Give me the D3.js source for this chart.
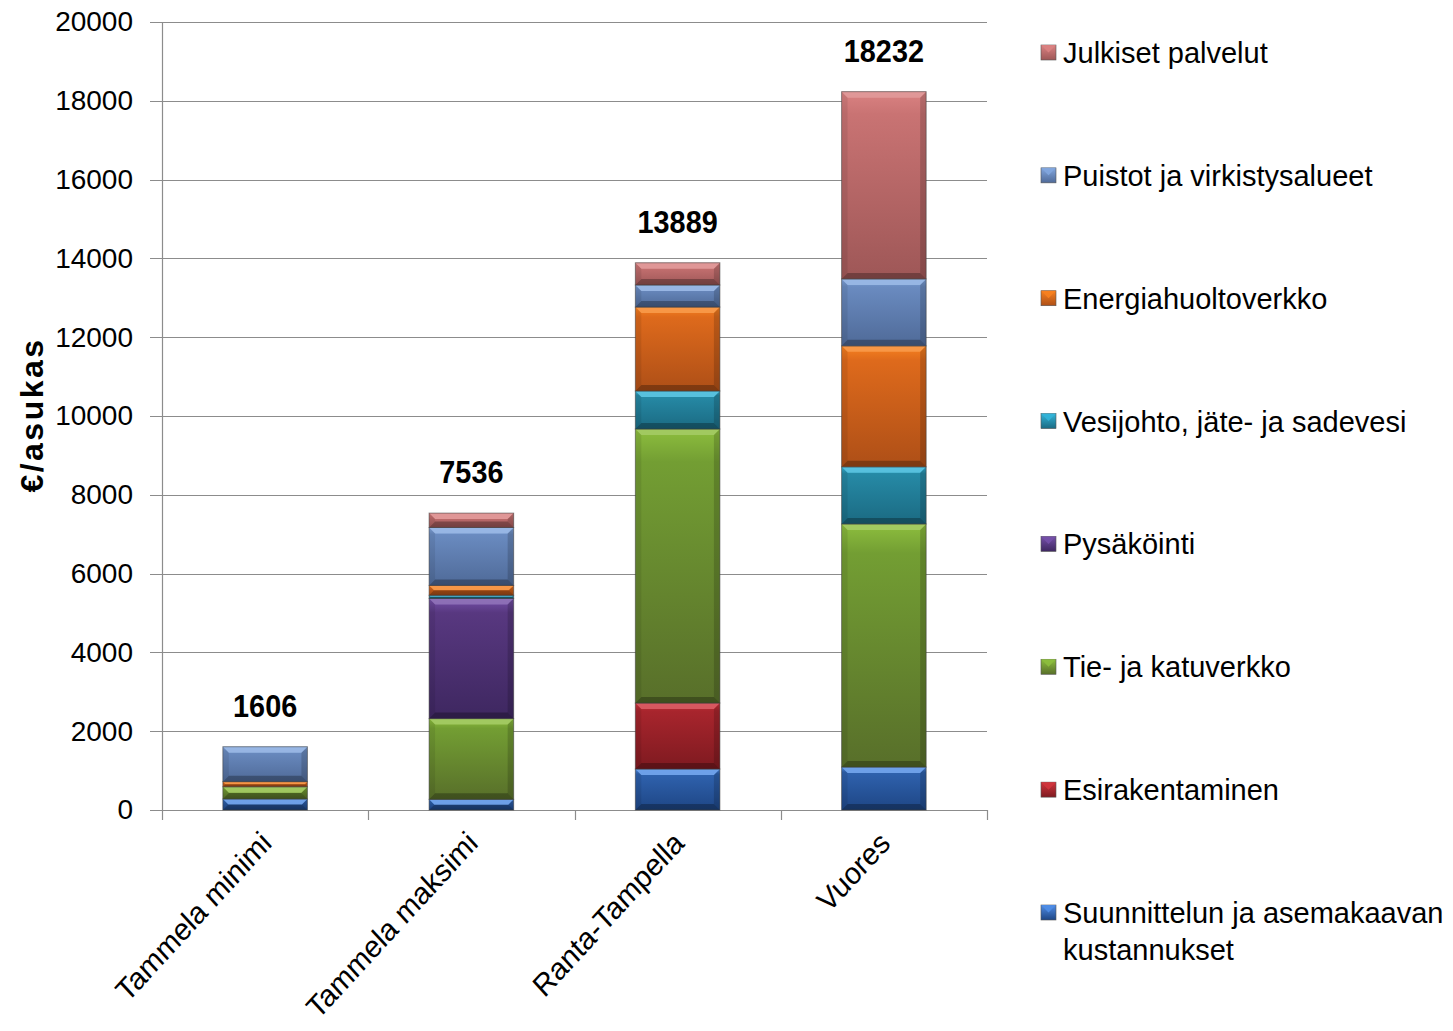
<!DOCTYPE html>
<html>
<head>
<meta charset="utf-8">
<script src="https://cdn.jsdelivr.net/npm/d3@7"></script>
<style>
  html, body { margin: 0; padding: 0; background: #fff; }
  svg { display: block; font-family: "Liberation Sans", Arial, sans-serif; }
</style>
</head>
<body>
<svg id="chart" width="1453" height="1031"></svg>
<script>
// Areas compared
const categories = ["Tammela minimi", "Tammela maksimi", "Ranta-Tampella", "Vuores"];

// Cost components, bottom to top (€ per resident)
const seriesNames = [
  "Suunnittelun ja asemakaavan kustannukset",
  "Esirakentaminen",
  "Tie- ja katuverkko",
  "Pysäköinti",
  "Vesijohto, jäte- ja sadevesi",
  "Energiahuoltoverkko",
  "Puistot ja virkistysalueet",
  "Julkiset palvelut"
];
const suunnittelu = [280, 270, 1040, 1090];
const esirakentaminen = [0, 0, 1675, 0];
const tieJaKatu = [310, 2050, 6955, 6170];
const pysakointi = [0, 3050, 0, 0];
const vesihuolto = [0, 80, 965, 1450];
const energia = [130, 250, 2130, 3070];
const puistot = [886, 1470, 560, 1700];
const julkiset = [0, 366, 564, 4752];

const totals = [1606, 7536, 13889, 18232];
const yTicks = [0, 2000, 4000, 6000, 8000, 10000, 12000, 14000, 16000, 18000, 20000];

// Base / light / dark tones for each component
const colors = [
  { base: "#2F62AE", light: "#4F8DE6", dark: "#1E4685" },
  { base: "#A8252D", light: "#D0353D", dark: "#7E1A20" },
  { base: "#739E33", light: "#8DBE3E", dark: "#586F2A" },
  { base: "#583880", light: "#7450A8", dark: "#3E2760" },
  { base: "#268AA6", light: "#33B4D8", dark: "#1B6A82" },
  { base: "#DE6A1C", light: "#F7811F", dark: "#AE4F17" },
  { base: "#6A8BC0", light: "#82A6DE", dark: "#4F6A98" },
  { base: "#C97373", light: "#DA8282", dark: "#9E5757" }
];

const seriesValues = [suunnittelu, esirakentaminen, tieJaKatu, pysakointi,
                      vesihuolto, energia, puistot, julkiset];

const rows = categories.map((c, i) => {
  const r = { category: c };
  seriesNames.forEach((s, k) => { r[s] = seriesValues[k][i]; });
  return r;
});
const stacked = d3.stack().keys(seriesNames)(rows);

const svg = d3.select("#chart");
const plot = { left: 162, right: 987, top: 22, bottom: 810 };

const x = d3.scaleBand().domain(categories).range([plot.left, plot.right]).paddingInner(0.59).paddingOuter(0.295);
const y = d3.scaleLinear().domain([0, 20000]).range([plot.bottom, plot.top]);

// Gradients
const defs = svg.append("defs");
colors.forEach((c, k) => {
  const g = defs.append("linearGradient").attr("id", "grad" + k)
    .attr("x1", 0).attr("y1", 0).attr("x2", 0).attr("y2", 1);
  g.append("stop").attr("offset", "0%").attr("stop-color", c.light);
  g.append("stop").attr("offset", "12%").attr("stop-color", c.base);
  g.append("stop").attr("offset", "100%").attr("stop-color", c.dark);
  const lg = defs.append("linearGradient").attr("id", "lgrad" + k)
    .attr("x1", 0).attr("y1", 0).attr("x2", 0).attr("y2", 1);
  lg.append("stop").attr("offset", "0%").attr("stop-color", c.light);
  lg.append("stop").attr("offset", "100%").attr("stop-color", c.dark);
});

// Gridlines with outward tick marks
svg.append("g").selectAll("line").data(yTicks).join("line")
  .attr("x1", plot.left - 12).attr("x2", plot.right)
  .attr("y1", d => Math.round(y(d)) + 0.5).attr("y2", d => Math.round(y(d)) + 0.5)
  .attr("stroke", "#8c8c8c").attr("stroke-width", 1.2);

// Y axis
const yAxis = d3.axisLeft(y).tickValues(yTicks).tickSize(0).tickPadding(0).tickFormat(d3.format("d"));
const yg = svg.append("g").attr("transform", `translate(${plot.left - 29},0)`).call(yAxis);
yg.select(".domain").remove();
yg.selectAll("text").attr("font-size", 28).attr("fill", "#000")
  .attr("font-family", "Liberation Sans, Arial, sans-serif");

svg.append("line").attr("x1", plot.left + 0.5).attr("x2", plot.left + 0.5)
  .attr("y1", plot.top).attr("y2", plot.bottom).attr("stroke", "#8c8c8c").attr("stroke-width", 1.2);

// X axis with category boundary ticks
const bounds = d3.range(categories.length + 1).map(i => plot.left + i * (plot.right - plot.left) / categories.length);
svg.append("g").selectAll("line").data(bounds).join("line")
  .attr("x1", d => Math.round(d) + 0.5).attr("x2", d => Math.round(d) + 0.5)
  .attr("y1", plot.bottom).attr("y2", plot.bottom + 10)
  .attr("stroke", "#8c8c8c").attr("stroke-width", 1.2);

// Bars with bevelled segments
const bw = x.bandwidth();
const bev = 6;
const layers = svg.append("g").selectAll("g").data(stacked).join("g");
layers.each(function (layer, k) {
  const g = d3.select(this);
  layer.forEach(d => {
    const h = y(d[0]) - y(d[1]);
    if (h <= 0.01) return;
    const x0 = x(d.data.category), y0 = y(d[1]);
    const seg = g.append("g");
    seg.append("rect").attr("x", x0).attr("y", y0).attr("width", bw).attr("height", h)
      .attr("fill", `url(#grad${k})`);
    const b = Math.min(bev, h / 2);
    // top highlight
    seg.append("path").attr("d", `M${x0},${y0}L${x0 + bw},${y0}L${x0 + bw - b},${y0 + b}L${x0 + b},${y0 + b}Z`)
      .attr("fill", colors[k].light).attr("opacity", 0.95);
    seg.append("path").attr("d", `M${x0},${y0}L${x0 + bw},${y0}L${x0 + bw - b},${y0 + b}L${x0 + b},${y0 + b}Z`)
      .attr("fill", "#fff").attr("opacity", 0.18);
    // bottom shade
    seg.append("path").attr("d", `M${x0},${y0 + h}L${x0 + bw},${y0 + h}L${x0 + bw - b},${y0 + h - b}L${x0 + b},${y0 + h - b}Z`)
      .attr("fill", "#000").attr("opacity", 0.28);
    // sides
    seg.append("path").attr("d", `M${x0},${y0}L${x0 + b},${y0 + b}L${x0 + b},${y0 + h - b}L${x0},${y0 + h}Z`)
      .attr("fill", "#000").attr("opacity", 0.08);
    seg.append("path").attr("d", `M${x0 + bw},${y0}L${x0 + bw - b},${y0 + b}L${x0 + bw - b},${y0 + h - b}L${x0 + bw},${y0 + h}Z`)
      .attr("fill", "#000").attr("opacity", 0.16);
    seg.append("rect").attr("x", x0).attr("y", y0).attr("width", bw).attr("height", h)
      .attr("fill", "none").attr("stroke", "#3c3c3c").attr("stroke-opacity", 0.55).attr("stroke-width", 1);
  });
});

// Total labels
svg.append("g").selectAll("text").data(categories).join("text")
  .attr("transform", (d, i) => `translate(${x(d) + bw / 2},${y(totals[i]) - 30}) scale(0.93,1)`)
  .attr("text-anchor", "middle")
  .attr("font-size", 31).attr("font-weight", "bold").attr("fill", "#000")
  .text((d, i) => totals[i]);

// Rotated category labels
svg.append("g").selectAll("text").data(categories).join("text")
  .attr("transform", d => `translate(${x(d) + bw / 2 + 8},${plot.bottom + 35}) scale(0.92,1) rotate(-45)`)
  .attr("text-anchor", "end")
  .attr("font-size", 31).attr("fill", "#000")
  .text(d => d);

// Y axis title
svg.append("text")
  .attr("transform", `translate(43,415) rotate(-90)`)
  .attr("text-anchor", "middle")
  .attr("font-size", 32).attr("font-weight", "bold").attr("letter-spacing", 2.5).attr("fill", "#000")
  .text("€/asukas");

// Legend, top entry is the top-most stack component
const legendOrder = seriesNames.map((s, k) => k).reverse();
const legendY = d3.scalePoint().domain(legendOrder).range([53, 913]);
const lg = svg.append("g").selectAll("g").data(legendOrder).join("g")
  .attr("transform", k => `translate(1041,${legendY(k)})`);
lg.append("rect").attr("x", 0).attr("y", -8).attr("width", 15).attr("height", 15)
  .attr("fill", k => `url(#lgrad${k})`).attr("stroke", "#555").attr("stroke-width", 0.6);
lg.append("path").attr("d", "M0,-8L15,-8L7.5,-0.5Z").attr("fill", k => colors[k].light).attr("opacity", 0.9);
lg.append("text").attr("x", 22).attr("y", 10).attr("font-size", 29).attr("fill", "#000")
  .each(function (k) {
    const t = d3.select(this);
    const name = seriesNames[k];
    if (name === "Suunnittelun ja asemakaavan kustannukset") {
      t.append("tspan").attr("x", 22).text("Suunnittelun ja asemakaavan");
      t.append("tspan").attr("x", 22).attr("dy", 37).text("kustannukset");
    } else {
      t.text(name);
    }
  });
</script>
</body>
</html>
